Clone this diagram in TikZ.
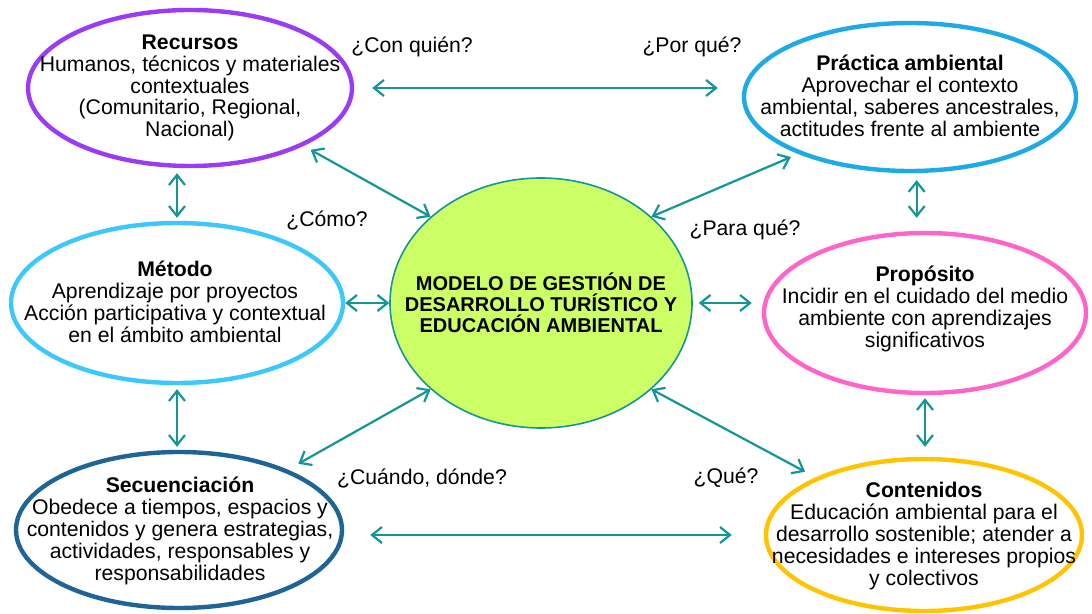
\documentclass[tikz,border=0pt]{standalone}
\usepackage{fontspec}
\setmainfont{Liberation Sans}
\usetikzlibrary{shapes.geometric,arrows.meta}

\definecolor{recpurple}{RGB}{155,60,245}
\definecolor{pracblue}{RGB}{30,170,230}
\definecolor{metcyan}{RGB}{60,200,250}
\definecolor{proppink}{RGB}{255,100,200}
\definecolor{seqblue}{RGB}{30,100,150}
\definecolor{contgold}{RGB}{255,195,0}
\definecolor{ctrgreen}{RGB}{204,255,102}
\definecolor{linkteal}{RGB}{20,150,150}

\tikzset{
  bubble/.style={ellipse, draw, line width=2.2pt, inner sep=0pt},
  txt/.style={align=center, font=\fontsize{10.6}{10.9}\selectfont},
  ask/.style={font=\fontsize{10.6}{10.9}\selectfont},
  link/.style={draw=linkteal, line width=1.1pt,
    {Straight Barb[length=5pt,width=8pt]}-{Straight Barb[length=5pt,width=8pt]}},
}

\begin{document}
\begin{tikzpicture}[x=0.5pt,y=-0.5pt]
    \useasboundingbox (0,0) rectangle (1092,614);

    % the bubbles
    \node[bubble, draw=recpurple, minimum width=162pt, minimum height=78pt] (rec) at (190,88) {};
    \node[bubble, draw=pracblue, minimum width=166pt, minimum height=74pt] (prac) at (910,97) {};
    \node[bubble, draw=metcyan, minimum width=166pt, minimum height=80pt] (met) at (177,303) {};
    \node[bubble, draw=linkteal, line width=0.8pt, fill=ctrgreen, minimum width=151pt, minimum height=125pt] (ctr) at (541,303) {};
    \node[bubble, draw=proppink, minimum width=161pt, minimum height=80pt] (prop) at (925,313) {};
    \node[bubble, draw=seqblue, minimum width=163pt, minimum height=78pt] (seq) at (179,530) {};
    \node[bubble, draw=contgold, minimum width=158pt, minimum height=76pt] (cont) at (924,535) {};

    % the texts
    \node[txt] (rec-t) at (rec) {\textbf{Recursos}\\Humanos, técnicos y materiales\\contextuales\\(Comunitario, Regional,\\Nacional)};
    \node[txt] (prac-t) at (910,96) {\textbf{Práctica ambiental}\\Aprovechar el contexto\\ambiental, saberes ancestrales,\\actitudes frente al ambiente};
    \node[txt] (met-t) at (175,302) {\textbf{Método}\\Aprendizaje por proyectos\\Acción participativa y contextual\\en el ámbito ambiental};
    \node[txt, font=\fontsize{10}{10.4}\selectfont\bfseries] (ctr-t) at (ctr) {MODELO DE GESTIÓN DE\\DESARROLLO TURÍSTICO Y\\EDUCACIÓN AMBIENTAL};
    \node[txt] (prop-t) at (925,309) {\textbf{Propósito}\\Incidir en el cuidado del medio\\ambiente con aprendizajes\\significativos};
    \node[txt] (seq-t) at (180,531) {\textbf{Secuenciación}\\Obedece a tiempos, espacios y\\contenidos y genera estrategias,\\actividades, responsables y\\responsabilidades};
    \node[txt] (cont-t) at (924,536) {\textbf{Contenidos}\\Educación ambiental para el\\desarrollo sostenible; atender a\\necesidades e intereses propios\\y colectivos};

    % the questions
    \node[ask] (q-quien) at (412,47) {¿Con quién?};
    \node[ask] (q-porque) at (692,47) {¿Por qué?};
    \node[ask] (q-como) at (327,220) {¿Cómo?};
    \node[ask] (q-paraque) at (745,230) {¿Para qué?};
    \node[ask] (q-cuando) at (422,478) {¿Cuándo, dónde?};
    \node[ask] (q-que) at (726,478) {¿Qué?};

    % draw the arrows
    \draw[link, shorten <=9pt, shorten >=12pt] (rec.east) -- (rec.east -| prac.west);
    \draw[link, shorten <=2.5pt, shorten >=1.5pt] (rec.south -| met.north) -- (met.north);
    \draw[link, shorten <=4pt] (rec.-27) -- (ctr.142);
    \draw[link, shorten <=4pt] (prac.-153) -- (ctr.38);
    \draw[link, shorten <=3.5pt, shorten >=6.5pt] (prac.-85) -- (prac.-85 |- prop.north);
    \draw[link] (met.east) -- (ctr.west);
    \draw[link, shorten <=3pt, shorten >=5pt] (ctr.east) -- (ctr.east -| prop.west);
    \draw[link, shorten <=2pt, shorten >=1.5pt] (met.south) -- (met.south |- seq.north);
    \draw[link, shorten >=6pt] (ctr.-142) -- (seq.29);
    \draw[link, shorten >=6pt] (ctr.-38) -- (cont.152);
    \draw[link, shorten <=1.5pt, shorten >=5pt] (prop.south) -- (prop.south |- cont.north);
    \draw[link, shorten <=13pt, shorten >=16pt] (seq.east |- cont.west) -- (cont.west);
\end{tikzpicture}
\end{document}
